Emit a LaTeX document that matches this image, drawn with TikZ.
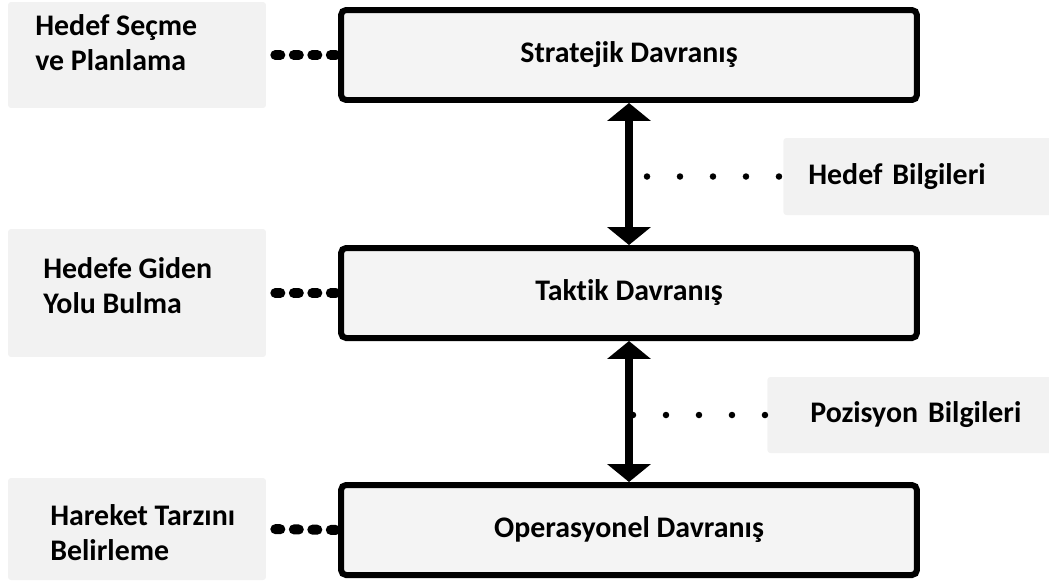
\documentclass[tikz,border=0pt]{standalone}
\usepackage{fontspec}
\setmainfont{Carlito}[Ligatures=NoCommon]
\usetikzlibrary{arrows.meta}

\definecolor{kutugri}{HTML}{F4F4F4}
\definecolor{etiketgri}{HTML}{F2F2F2}

\tikzset{
  yazitipi/.style={font=\bfseries\fontsize{17}{19.4}\selectfont},
  davranis/.style={draw, line width=0.12cm, rounded corners=0.1cm, fill=kutugri,
    minimum width=11.52cm, minimum height=1.8cm, yazitipi},
  etiket/.style={fill=etiketgri, rounded corners=0.06cm, minimum width=5.16cm},
  yazi/.style={align=left, inner sep=0pt, yazitipi},
  bilgi/.style={fill=etiketgri, rounded corners=0.06cm, anchor=west, align=left, yazitipi},
  baglanti/.style={line width=0.2cm, line cap=round, dash pattern=on 0.1cm off 0.27cm,
    shorten <=0.18cm},
  nokta/.style={line width=0.13cm, line cap=round, dash pattern=on 0pt off 0.66cm},
  okbas/.style={{Triangle[width=0.86cm,length=0.36cm]}-{Triangle[width=0.86cm,length=0.36cm]},
    line width=0.16cm}
}

\begin{document}
\begin{tikzpicture}[x=0.02cm,y=-0.02cm]
  \useasboundingbox (0,0) rectangle (1049,583);

  % davranış kutuları
  \node[davranis] (strateji) at (629,55) {Stratejik Davranış};
  \node[davranis] (taktik) at (629,293) {Taktik Davranış};
  \node[davranis] (operasyon) at (629,530) {Operasyonel Davranış};

  % sol etiketler
  \node[etiket, minimum height=2.12cm] (secme) at (137,55) {};
  \node[yazi, anchor=base west] (secmeyazi) at (35,70) {Hedef Seçme\\ve Planlama};
  \node[etiket, minimum height=2.56cm] (giden) at (137,293) {};
  \node[yazi, anchor=base west] (gidenyazi) at (43,313) {Hedefe Giden\\Yolu Bulma};
  \node[etiket, minimum height=2.04cm] (tarz) at (137,529) {};
  \node[yazi, anchor=base west] (tarzyazi) at (50,560) {Hareket Tarzını\\Belirleme};

  % bağlantılar
  \draw[baglanti] (secme.east) -- (strateji.west);
  \draw[baglanti] (giden.east) -- (taktik.west);
  \draw[baglanti] (tarz.east) -- (operasyon.west);

  % oklar
  \draw[okbas] (strateji.south) -- (taktik.north);
  \draw[okbas] (taktik.south) -- (operasyon.north);

  % bilgiler
  \node[bilgi, minimum height=1.54cm, inner xsep=0.5cm, text width=4.44cm] (hedefb) at (783,176.5) {Hedef Bilgileri};
  \node[bilgi, minimum height=1.52cm, inner xsep=0.86cm, text width=4.4cm] (pozb) at (767,415) {Pozisyon Bilgileri};
  \coordinate (hb) at (647,176.5);
  \coordinate (pb) at (633,415);
  \draw[nokta] (hb) -- (hedefb.west);
  \draw[nokta] (pb) -- (pozb.west);
\end{tikzpicture}
\end{document}
